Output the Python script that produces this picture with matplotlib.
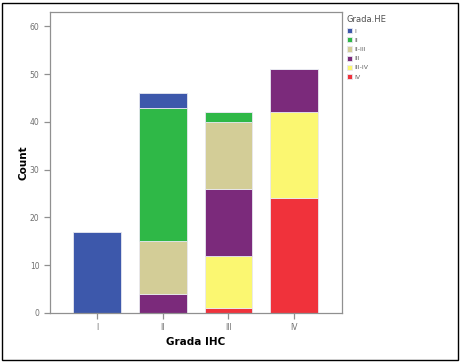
import numpy as np
import matplotlib.pyplot as plt
from matplotlib.patches import Rectangle

# grade groups on x axis and stacked segments (counts)
ihc_grades = ['I', 'II', 'III', 'IV']
he_grades = ['I', 'II', 'II-III', 'III', 'III-IV', 'IV']
he_colors = ['#3d58ab', '#2fb847', '#d3cd97', '#7b2a7b', '#fbf771', '#f0323b']

# stacking order from bottom: IV, III-IV, III, II-III, II, I
counts_I = [17, 0, 0, 0, 0, 0]
counts_II = [3, 28, 11, 4, 0, 0]
counts_III = [0, 2, 14, 14, 11, 1]
counts_IV = [0, 0, 0, 9, 18, 24]

table = np.array([counts_I, counts_II, counts_III, counts_IV])
stack_order = [5, 4, 3, 2, 1, 0]

fig = plt.figure(figsize=(4.62, 3.62), dpi=100)
ax = fig.add_axes([50 / 462, 1 - 313 / 362, 292 / 462, 301 / 362])

x = np.arange(len(ihc_grades))
bottom = np.zeros(len(ihc_grades))
handles = {}
for k in stack_order:
    vals = table[:, k]
    bars = ax.bar(x, vals, width=0.73, bottom=bottom, color=he_colors[k],
                  edgecolor='#e8e8f0', linewidth=0.6)
    handles[k] = bars
    bottom += vals

ax.set_xlim(-0.72, 3.73)
ax.set_ylim(0, 63)
ax.set_yticks(np.arange(0, 61, 10))
ax.set_xticks(x)
ax.set_xticklabels(ihc_grades)
for s in ax.spines.values():
    s.set_color('#909090')
    s.set_linewidth(0.9)
ax.tick_params(axis='both', colors='#909090', labelcolor='#707070',
               labelsize=5.5, length=4, width=0.9)
ax.set_ylabel('Count', fontsize=7.5, fontweight='bold', labelpad=1)
ax.set_xlabel('Grada IHC', fontsize=7.5, fontweight='bold', labelpad=3)

leg = fig.legend([handles[k][0] for k in range(len(he_grades))], he_grades,
                 title='Grada.HE', loc='upper left',
                 bbox_to_anchor=(344 / 462, 1 - 13 / 362),
                 frameon=False, fontsize=4.5, title_fontsize=6,
                 handlelength=0.9, handleheight=0.9, handletextpad=0.3,
                 labelspacing=0.55, borderaxespad=0)
leg._legend_box.align = 'left'
for t in leg.get_texts():
    t.set_color('#606060')
leg.get_title().set_color('#505050')

fig.patches.append(Rectangle((2 / 462, 2 / 362), 456 / 462, 357 / 362,
                             transform=fig.transFigure, fill=False,
                             edgecolor='black', linewidth=1.0))

fig.savefig('out.png', dpi=100)
